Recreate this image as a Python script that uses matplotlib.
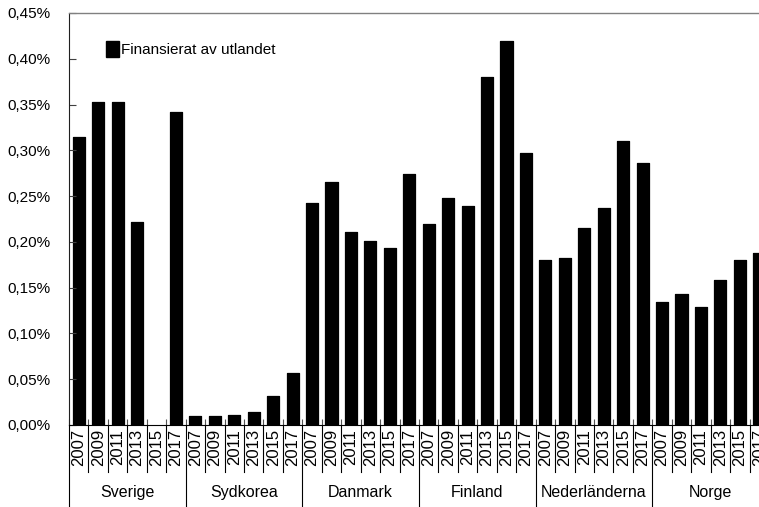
#!/usr/bin/env python

# Bar chart: R&D financed from abroad, share of GDP, by country and year.

import numpy
import matplotlib
from matplotlib.backends.backend_agg import FigureCanvasAgg as FigureCanvas
from matplotlib.figure import Figure
from matplotlib.patches import Patch
from matplotlib.lines import Line2D
import matplotlib.transforms as transforms
from matplotlib.ticker import FuncFormatter, FixedLocator

# Data (percent of GDP)
countries = ['Sverige', 'Sydkorea', 'Danmark', 'Finland',
             'Nederländerna', 'Norge']
years = ['2007', '2009', '2011', '2013', '2015', '2017']
sverige = [0.315, 0.353, 0.353, 0.222, numpy.nan, 0.342]
sydkorea = [0.0098, 0.0098, 0.011, 0.0144, 0.0317, 0.0568]
danmark = [0.2425, 0.2654, 0.2108, 0.2010, 0.1933, 0.2741]
finland = [0.2195, 0.2479, 0.2392, 0.3801, 0.4194, 0.2971]
nederlanderna = [0.1802, 0.1824, 0.2152, 0.2370, 0.3102, 0.2862]
norge = [0.1343, 0.1431, 0.1289, 0.1584, 0.1802, 0.1879]
series_label = 'Finansierat av utlandet'

values = sverige + sydkorea + danmark + finland + nederlanderna + norge
ncat = len(values)
xpos = numpy.arange(ncat)

matplotlib.rcParams['font.family'] = ['Liberation Sans', 'DejaVu Sans']
fsize = 11
ysize = 12

# Figure, 759x507 pixels
fig = Figure(figsize=(7.59, 5.07), dpi=100, facecolor='white')
canvas = FigureCanvas(fig)

# Axes runs a little past the right edge of the picture (as in the original)
ax = fig.add_axes([69/759, 82/507, 700/759, 412/507])
ax.bar(xpos, values, width=0.62, color='black', edgecolor='black',
       linewidth=0.9, joinstyle='round', label=series_label)

ax.set_xlim(-0.5, ncat-0.5)
ax.set_ylim(0, 0.45)

# y axis: ticks inside, labels like 0,45%
ax.yaxis.set_major_locator(FixedLocator(numpy.arange(0, 0.451, 0.05)))
ax.yaxis.set_major_formatter(FuncFormatter(
    lambda v, p: ('%.2f%%' % v).replace('.', ',')))
ax.tick_params(axis='y', direction='in', length=5, width=0.8,
               color='#404040', pad=13, labelsize=fsize)

# x axis: no labels from matplotlib, small marks at category edges
ax.set_xticks([])
ax.xaxis.set_minor_locator(FixedLocator(numpy.arange(ncat+1)-0.5))
ax.tick_params(axis='x', which='minor', direction='in', length=4,
               width=0.8, color='#555555')

ax.spines['right'].set_visible(False)
ax.spines['top'].set_color('#808080')
ax.spines['top'].set_linewidth(1.0)
ax.spines['left'].set_color('#202020')
ax.spines['bottom'].set_color('black')

# Hierarchical category labels below the axis
trans = transforms.blended_transform_factory(ax.transData, ax.transAxes)
for i in range(ncat+1):
    if i % len(years) == 0:
        y0 = -0.25
    else:
        y0 = -0.114
    ax.add_line(Line2D([i-0.5, i-0.5], [0, y0], transform=trans,
                       color='black', linewidth=0.8, clip_on=False))
for i in range(ncat):
    ax.text(i, -0.01, years[i % len(years)], transform=trans,
            rotation=90, ha='center', va='top', fontsize=ysize,
            clip_on=False)
for g, name in enumerate(countries):
    ax.text(g*len(years)+2.5, -0.165, name, transform=trans,
            ha='center', va='center', fontsize=fsize+0.5, clip_on=False)

# Legend
ax.legend(handles=[Patch(facecolor='black', edgecolor='black',
                         joinstyle='round', label=series_label)],
          loc='upper left', bbox_to_anchor=(0.053, 0.933),
          frameon=False, fontsize=fsize, handlelength=0.85,
          handleheight=1.3, handletextpad=0.1, borderpad=0,
          borderaxespad=0)

fig.savefig('out.png', dpi=100)
